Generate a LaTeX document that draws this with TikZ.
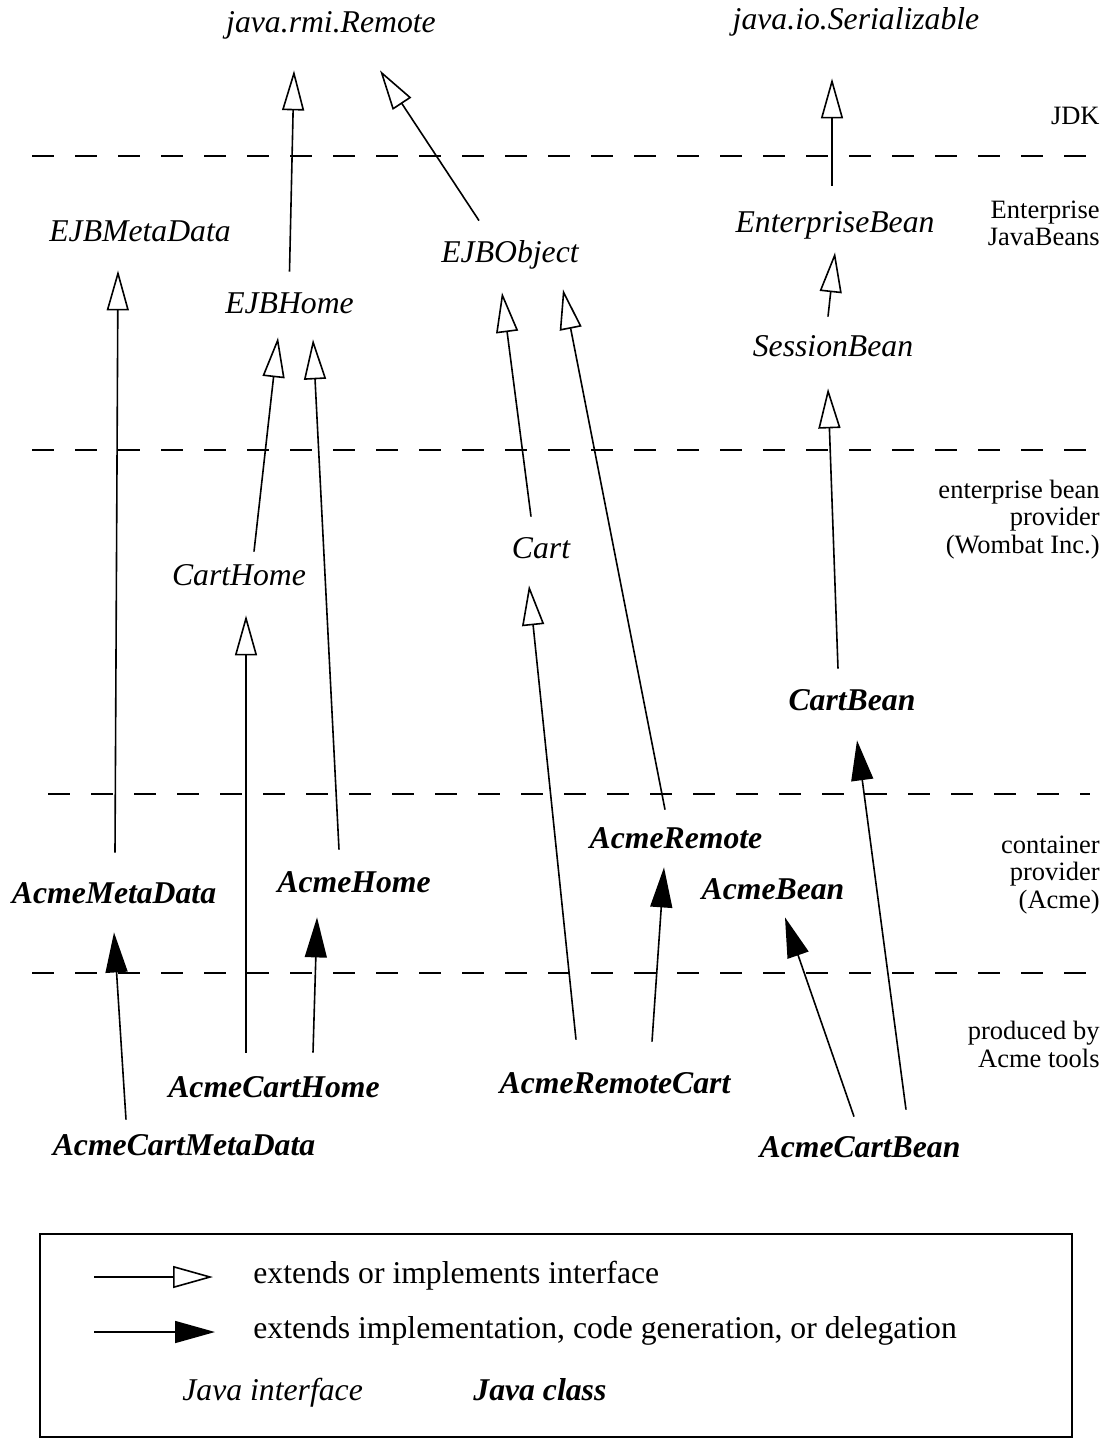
\documentclass[tikz,border=0pt]{standalone}
\usepackage{fontspec}
\setmainfont{Liberation Serif}
\usetikzlibrary{arrows.meta}

\newcommand\ifacefont{\fontsize{15.85}{19}\selectfont\itshape}
\newcommand\classfont{\fontsize{15.85}{19}\selectfont\bfseries\itshape}
\newcommand\layerfont{\fontsize{13.25}{13.75}\selectfont}
\newcommand\keyfont{\fontsize{15.85}{19}\selectfont}

\begin{document}
\begin{tikzpicture}[x=0.5pt,y=-0.5pt,
  iface/.style={font=\ifacefont,inner sep=0pt,text height=11pt,text depth=3.5pt,anchor=base},
  jclass/.style={iface,font=\classfont},
  layer/.style={font=\layerfont,align=right,anchor=base east,inner sep=0pt},
  ext/.style={line width=0.8pt,-{Triangle[open,length=20pt,width=11pt]}},
  impl/.style={line width=0.8pt,-{Triangle[length=20pt,width=11pt]}},
  tier/.style={line width=0.9pt,dash pattern=on 11pt off 10.5pt}]

  \useasboundingbox (0,0) rectangle (1108,1439);

  % tiers
  \draw[tier] (32,156) -- (1090,156);
  \draw[tier] (32,450) -- (1090,450);
  \draw[tier] (48,794) -- (1090,794);
  \draw[tier] (32,973) -- (1090,973);

  \draw (1100,125) node[layer] (jdk) {JDK};
  \draw (1100,246) node[layer] (ejbtier) {Enterprise\\JavaBeans};
  \draw (1100,553) node[layer] (wombat) {enterprise bean\\provider\\(Wombat Inc.)};
  \draw (1100,908) node[layer] (acme) {container\\provider\\(Acme)};
  \draw (1100,1067) node[layer] (tools) {produced by\\Acme tools};

  % interfaces
  \draw (331,33) node[iface] (remote) {java.rmi.Remote};
  \draw (856,30) node[iface] (serial) {java.io.Serializable};
  \draw (140,242) node[iface] (ejbmeta) {EJBMetaData};
  \draw (289.5,314) node[iface] (ejbhome) {EJBHome};
  \draw (510,263) node[iface] (ejbobject) {EJBObject};
  \draw (835,233) node[iface] (entbean) {EnterpriseBean};
  \draw (833,356) node[iface] (sessbean) {SessionBean};
  \draw (239,585) node[iface] (carthome) {CartHome};
  \draw (541,558) node[iface] (cart) {Cart};

  % classes
  \draw (852,710) node[jclass] (cartbean) {CartBean};
  \draw (676,848) node[jclass] (acmeremote) {AcmeRemote};
  \draw (114,903) node[jclass] (acmemeta) {AcmeMetaData};
  \draw (354,892) node[jclass] (acmehome) {AcmeHome};
  \draw (773,899) node[jclass] (acmebean) {AcmeBean};
  \draw (274,1097) node[jclass] (acmecarthome) {AcmeCartHome};
  \draw (615,1093) node[jclass] (acmeremotecart) {AcmeRemoteCart};
  \draw (184,1155) node[jclass] (acmecartmeta) {AcmeCartMetaData};
  \draw (860,1157) node[jclass] (acmecartbean) {AcmeCartBean};

  % extends or implements
  \draw[ext] ([shift={(0,-20)}]ejbhome.north) -- ([shift={(-37,30)}]remote.south);
  \draw[ext] ([shift={(-31,-20)}]ejbobject.north) -- ([shift={(49,30)}]remote.south);
  \draw[ext] ([shift={(-3,-25)}]entbean.north) -- ([shift={(-24,41)}]serial.south);
  \draw[ext] ([shift={(-5,-17)}]sessbean.north) -- ([shift={(0,12)}]entbean.south);
  \draw[ext] ([shift={(-14,-19)}]cartbean.north) -- ([shift={(-5,25)}]sessbean.south);
  \draw[ext] ([shift={(1,-28)}]acmemeta.north) -- ([shift={(-22,21)}]ejbmeta.south);
  \draw[ext] ([shift={(15,-11)}]carthome.north) -- ([shift={(-11.5,16)}]ejbhome.south);
  \draw[ext] ([shift={(-15,-20)}]acmehome.north) -- ([shift={(23.5,18)}]ejbhome.south);
  \draw[ext] ([shift={(-10,-19)}]cart.north) -- ([shift={(-8,22)}]ejbobject.south);
  \draw[ext] ([shift={(-11,-16)}]acmeremote.north) -- ([shift={(53,19)}]ejbobject.south);
  \draw[ext] ([shift={(-28,-22)}]acmecarthome.north) -- ([shift={(7,23)}]carthome.south);
  \draw[ext] ([shift={(-39,-31)}]acmeremotecart.north) -- ([shift={(-12,20)}]cart.south);

  % implementation, generation, delegation
  \draw[impl] ([shift={(-58,-13)}]acmecartmeta.north) -- ([shift={(0,22)}]acmemeta.south);
  \draw[impl] ([shift={(39,-22)}]acmecarthome.north) -- ([shift={(-37,18)}]acmehome.south);
  \draw[impl] ([shift={(37,-29)}]acmeremotecart.north) -- ([shift={(-12,12)}]acmeremote.south);
  \draw[impl] ([shift={(-6,-18)}]acmecartbean.north) -- ([shift={(12,11)}]acmebean.south);
  \draw[impl] ([shift={(46,-25)}]acmecartbean.north) -- ([shift={(5,23)}]cartbean.south);

  % legend
  \draw[line width=0.8pt] (40,1234) rectangle (1072,1437);
  \coordinate (k1a) at (94,1277);
  \coordinate (k1b) at (213,1277);
  \coordinate (k2a) at (94,1332);
  \coordinate (k2b) at (215,1332);
  \draw[ext] (k1a) -- (k1b);
  \draw[impl] (k2a) -- (k2b);
  \draw (253,1283) node[anchor=base west,inner sep=0pt,font=\keyfont] (kext) {extends or implements interface};
  \draw (253,1338) node[anchor=base west,inner sep=0pt,font=\keyfont] (kimpl) {extends implementation, code generation, or delegation};
  \draw (182,1400) node[anchor=base west,inner sep=0pt,font=\ifacefont] (kiface) {Java interface};
  \draw (473,1400) node[anchor=base west,inner sep=0pt,font=\classfont] (kclass) {Java class};

\end{tikzpicture}
\end{document}
